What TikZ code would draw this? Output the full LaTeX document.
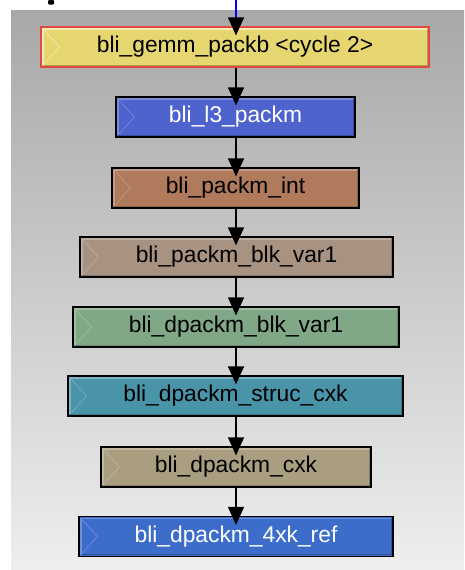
\documentclass[tikz,border=0pt]{standalone}
\usepackage{fontspec}
\setmainfont{Liberation Sans}
\usetikzlibrary{arrows.meta,calc}
\definecolor{cyellow}{HTML}{E6D670}
\definecolor{cblueA}{HTML}{4F63CF}
\definecolor{cbrown}{HTML}{B07B5D}
\definecolor{ctaupe}{HTML}{A89383}
\definecolor{cgreen}{HTML}{80A887}
\definecolor{cteal}{HTML}{4A94AA}
\definecolor{ckhaki}{HTML}{A99E7F}
\definecolor{cblueB}{HTML}{3D6DCB}
\definecolor{cred}{HTML}{E04A40}
\definecolor{bgtop}{HTML}{A8A8A8}
\definecolor{bgmid}{HTML}{CBCBCB}
\definecolor{bgbot}{HTML}{EEEEEE}
\tikzset{
  gbox/.style={draw=black, line width=1.2pt, minimum height=40pt, inner sep=0pt,
    font=\fontsize{22.8}{24}\selectfont, text=black},
  flow/.style={draw=black, line width=1.2pt, -{Triangle[width=16pt,length=18pt]}, shorten >=-9pt},
  inflow/.style={draw=blue, line width=1.2pt, -{Triangle[width=16pt,length=18pt,color=black]}, shorten >=-9pt},
}
\newcommand\gbevel[3]{% node name, light colour, dark colour
  \draw[#3, line width=1.2pt] ($(#1.south west)+(2.5,-2.5)$) -- ($(#1.south east)+(-2.5,-2.5)$) -- ($(#1.north east)+(-2.5,2.5)$);
  \draw[#2, line width=1.2pt] ($(#1.south west)+(2.5,-2.5)$) -- ($(#1.north west)+(2.5,2.5)$) -- ($(#1.north east)+(-2.5,2.5)$);
  \draw[#2, line width=0.6pt] ($(#1.north west)+(4,4)$) -- ($(#1.west)+(19,0)$) -- ($(#1.south west)+(4,-4)$);
}
\begin{document}
\begin{tikzpicture}[x=1pt,y=-1pt]
\useasboundingbox (0,0) rectangle (464,570);
\fill[white] (0,0) rectangle (464,570);
\shade[top color=bgtop, bottom color=bgbot, middle color=bgmid] (11,10) rectangle (464,570);
\fill[black, rounded corners=1pt] (48,0) rectangle (54,4.5);

\node[gbox, draw=cred, fill=cyellow, minimum width=388pt] (n1) at (235,47) {bli\_gemm\_packb <cycle 2>};
\node[gbox, fill=cblueA, text=white, minimum width=239pt] (n2) at (235.5,117) {bli\_l3\_packm};
\node[gbox, fill=cbrown, minimum width=247pt] (n3) at (235.5,188) {bli\_packm\_int};
\node[gbox, fill=ctaupe, minimum width=313pt] (n4) at (236.5,257) {bli\_packm\_blk\_var1};
\node[gbox, fill=cgreen, minimum width=326pt] (n5) at (236,327) {bli\_dpackm\_blk\_var1};
\node[gbox, fill=cteal, minimum width=335pt] (n6) at (235.5,396) {bli\_dpackm\_struc\_cxk};
\node[gbox, fill=ckhaki, minimum width=270pt] (n7) at (236,467) {bli\_dpackm\_cxk};
\node[gbox, fill=cblueB, text=white, minimum width=314pt] (n8) at (236,536.5) {bli\_dpackm\_4xk\_ref};

\gbevel{n1}{cyellow!50!white}{cyellow!75!black}
\gbevel{n2}{cblueA!75!white}{cblueA!75!black}
\gbevel{n3}{cbrown!75!white}{cbrown!80!black}
\gbevel{n4}{ctaupe!75!white}{ctaupe!80!black}
\gbevel{n5}{cgreen!75!white}{cgreen!80!black}
\gbevel{n6}{cteal!70!white}{cteal!80!black}
\gbevel{n7}{ckhaki!75!white}{ckhaki!80!black}
\gbevel{n8}{cblueB!75!white}{cblueB!75!black}

\coordinate (in) at (236,0);
\draw[inflow] (in) -- (in |- n1.north);
\draw[flow] (n1.south -| in) -- (in |- n2.north);
\draw[flow] (n2.south -| in) -- (in |- n3.north);
\draw[flow] (n3.south -| in) -- (in |- n4.north);
\draw[flow] (n4.south -| in) -- (in |- n5.north);
\draw[flow] (n5.south -| in) -- (in |- n6.north);
\draw[flow] (n6.south -| in) -- (in |- n7.north);
\draw[flow] (n7.south -| in) -- (in |- n8.north);
\end{tikzpicture}
\end{document}
